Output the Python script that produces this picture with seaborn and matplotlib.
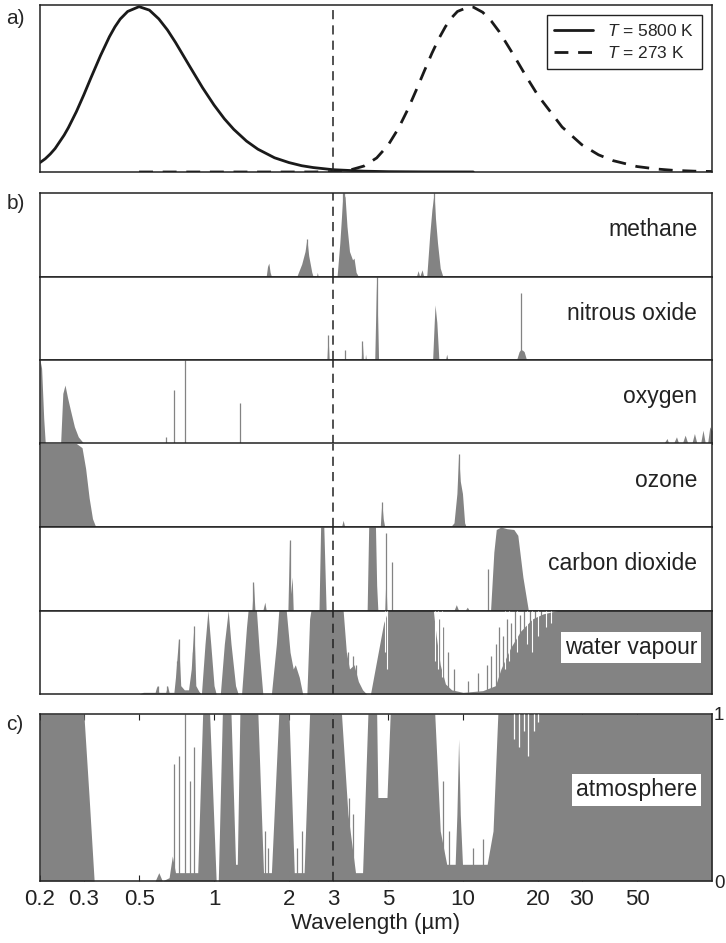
import numpy as np
import pandas as pd
import matplotlib
matplotlib.use("Agg")
import matplotlib.pyplot as plt
from matplotlib.ticker import FixedLocator, NullLocator
import seaborn as sns

sns.set_theme(style="white")
plt.rcParams['font.family'] = ['Liberation Sans', 'DejaVu Sans']
plt.rcParams['mathtext.fontset'] = 'custom'
plt.rcParams['mathtext.it'] = 'Liberation Sans:italic'
plt.rcParams['mathtext.rm'] = 'Liberation Sans'

# ---------------- data ----------------
# panel a: normalised black-body spectra
sun_wl = [0.2, 0.21, 0.22, 0.23, 0.25, 0.26, 0.28, 0.3, 0.32, 0.35, 0.38, 0.4, 0.42, 0.45, 0.5,
          0.55, 0.6, 0.65, 0.7, 0.8, 0.9, 1.0, 1.1, 1.2, 1.35, 1.5, 1.75, 2.0, 2.25, 2.5, 3.0,
          4.0, 5.0, 7.0, 11.0]
sun_val = [0.057, 0.080, 0.109, 0.142, 0.223, 0.268, 0.365, 0.467, 0.568, 0.704, 0.818, 0.878,
           0.925, 0.971, 1.0, 0.979, 0.926, 0.859, 0.784, 0.637, 0.509, 0.405, 0.322, 0.258,
           0.187, 0.138, 0.086, 0.057, 0.038, 0.027, 0.014, 0.005, 0.002, 0.0006, 0.0001]
earth_wl = [0.5, 1.0, 2.0, 2.5, 3.0, 3.5, 4.0, 4.5, 5.0, 5.5, 6.0, 6.5, 7.0, 7.5, 8.0, 8.5, 9.0,
            9.5, 10.6, 11.0, 12.0, 13.0, 14.0, 16.0, 18.0, 20.0, 25.0, 30.0, 35.0, 40.0, 50.0,
            60.0, 70.0, 85.0, 100.0]
earth_val = [0.0, 0.0, 0.0, 0.0001, 0.002, 0.011, 0.036, 0.085, 0.162, 0.263, 0.378, 0.498,
             0.613, 0.718, 0.807, 0.879, 0.933, 0.971, 1.0, 0.997, 0.966, 0.912, 0.847, 0.705,
             0.574, 0.463, 0.272, 0.165, 0.104, 0.069, 0.033, 0.018, 0.010, 0.005, 0.003]
legend_labels = ["$T$ = 5800 K", "$T$ = 273 K"]

# panel b: absorption envelopes (wavelength in um, absorption 0..1) and narrow lines
methane_wl = [0.2, 1.62, 1.64, 1.66, 1.68, 1.70, 2.15, 2.25, 2.32, 2.36, 2.40, 2.47, 2.5, 2.58,
              2.6, 2.62, 3.12, 3.2, 3.28, 3.31, 3.36, 3.42, 3.5, 3.6, 3.65, 3.72, 3.8, 6.5, 6.6,
              6.7, 6.85, 6.95, 7.15, 7.35, 7.5, 7.65, 7.75, 7.9, 8.1, 8.3, 100]
methane_ab = [0, 0, 0.12, 0.16, 0.05, 0, 0, 0.15, 0.3, 0.45, 0.25, 0.05, 0, 0,
              0.05, 0, 0, 0.4, 0.9, 1.0, 0.95, 0.6, 0.3, 0.2, 0.22, 0.05, 0, 0, 0.07,
              0, 0.08, 0, 0, 0.5, 0.8, 1.0, 0.7, 0.4, 0.1, 0, 0]
methane_line_wl = [2.36, 3.30, 3.34, 7.62]
methane_line_ab = [0.45, 1.0, 1.0, 1.0]

n2o_wl = [0.2, 2.84, 2.87, 2.9, 3.9, 3.94, 3.98, 4.04, 4.06, 4.09, 4.42, 4.48, 4.5, 4.53,
          4.58, 7.55, 7.65, 7.72, 7.85, 8.0, 8.5, 8.6, 8.7, 16.4, 16.8, 17.0, 17.3, 17.6, 18.0, 100]
n2o_ab = [0, 0, 0.3, 0, 0, 0.23, 0, 0, 0.07, 0, 0, 0.8, 1.0, 0.6,
          0, 0, 0.4, 0.66, 0.45, 0, 0, 0.07, 0, 0, 0.1, 0.12, 0.12, 0.1, 0, 0]
n2o_line_wl = [2.87, 3.37, 3.94, 4.5, 17.15]
n2o_line_ab = [0.3, 0.12, 0.23, 1.0, 0.8]

o2_wl = [0.2, 0.203, 0.207, 0.21, 0.242, 0.247, 0.252, 0.258, 0.265, 0.275, 0.285, 0.3,
         64, 66, 67, 70, 72, 73.5, 76, 78, 80, 83, 85, 87, 90, 92, 94, 96, 98, 100]
o2_ab = [1.0, 0.9, 0.3, 0, 0, 0.6, 0.7, 0.55, 0.4, 0.2, 0.08, 0,
         0, 0.06, 0, 0, 0.08, 0, 0, 0.1, 0, 0, 0.12, 0, 0, 0.16, 0, 0, 0.2, 0.15]
o2_line_wl = [0.64, 0.69, 0.762, 1.27]
o2_line_ab = [0.08, 0.64, 1.0, 0.48]

o3_wl = [0.2, 0.28, 0.295, 0.305, 0.315, 0.325, 0.335, 3.25, 3.3, 3.35, 4.65, 4.72, 4.78,
         4.85, 8.9, 9.2, 9.45, 9.6, 9.75, 9.95, 10.15, 10.3, 100]
o3_ab = [1.0, 1.0, 0.95, 0.7, 0.35, 0.1, 0, 0, 0.08, 0, 0, 0.3, 0.1,
         0, 0, 0.05, 0.4, 0.87, 0.55, 0.4, 0.05, 0, 0]
o3_line_wl = [4.74, 9.6]
o3_line_ab = [0.3, 0.87]

co2_wl = [0.2, 1.42, 1.44, 1.46, 1.57, 1.6, 1.62, 1.98, 2.01, 2.03, 2.06, 2.08, 2.64, 2.68,
          2.76, 2.82, 4.12, 4.18, 4.45, 4.5, 4.55, 4.85, 4.9, 4.95, 9.2, 9.4, 9.6, 10.2, 10.4,
          10.6, 12.9, 13.3, 13.6, 14.2, 15.0, 16.0, 16.6, 17.4, 18.3, 100]
co2_ab = [0, 0, 0.34, 0, 0, 0.1, 0, 0, 0.85, 0.2, 0.4, 0, 0, 1.0,
          1.0, 0, 0, 1.0, 1.0, 0.3, 0, 0, 0.4, 0, 0, 0.07, 0, 0, 0.04,
          0, 0, 0.7, 0.97, 1.0, 0.98, 0.97, 0.9, 0.4, 0, 0]
co2_line_wl = [1.44, 2.01, 4.9, 5.2, 12.6]
co2_line_ab = [0.34, 0.85, 0.93, 0.58, 0.5]

h2o_wl = [0.2, 0.5, 0.52, 0.58, 0.59, 0.6, 0.64, 0.65, 0.66, 0.69, 0.7, 0.72, 0.735, 0.76,
          0.79, 0.81, 0.83, 0.845, 0.87, 0.89, 0.92, 0.945, 0.97, 1.0, 1.02, 1.06, 1.1, 1.14,
          1.17, 1.22, 1.25, 1.29, 1.35, 1.37, 1.48, 1.52, 1.57, 1.7, 1.78, 1.82, 1.95, 2.02,
          2.08, 2.12, 2.2, 2.27, 2.36, 2.42, 2.45, 3.3, 3.4, 3.5, 3.65, 3.8, 3.95, 4.1, 4.25,
          4.5, 4.8, 5.0, 7.6, 7.8, 8.1, 8.5, 9.0, 10.0, 12.0, 13.5, 14.2, 15.5, 17.0, 19.0,
          21.0, 24.0, 100]
h2o_ab = [0, 0, 0.02, 0.02, 0.1, 0.02, 0.02, 0.1, 0.02, 0.02, 0.2, 0.66, 0.1, 0.05,
          0.05, 0.3, 0.82, 0.1, 0.03, 0, 0.6, 1.0, 0.6, 0.1, 0, 0, 0.6, 1.0,
          0.6, 0.1, 0, 0, 0.8, 1.0, 1.0, 0.5, 0, 0, 0.6, 1.0, 1.0, 0.5,
          0.3, 0.35, 0.2, 0, 0, 0.9, 1.0, 1.0, 0.5, 0.3, 0.35, 0.15, 0.05, 0, 0,
          0.4, 0.85, 1.0, 1.0, 0.7, 0.35, 0.12, 0.05, 0.02, 0.04, 0.1, 0.3, 0.55, 0.75, 0.9,
          0.96, 1.0, 1.0]
h2o_line_wl = [0.595, 0.65, 0.71, 0.72, 0.82, 0.83, 3.45, 3.6, 3.7, 8.0, 8.3, 8.7, 9.2, 10.5,
               11.5, 12.5, 13.0, 13.6, 14.0, 14.5, 15.0, 15.6, 16.2, 16.9, 17.6, 18.5, 19.4, 20.5]
h2o_line_ab = [0.1, 0.1, 0.4, 0.66, 0.5, 0.82, 0.5, 0.45, 0.35, 0.9, 0.8, 0.5, 0.3, 0.15,
               0.25, 0.35, 0.45, 0.6, 0.8, 0.7, 0.9, 0.85, 1.0, 0.95, 1.0, 1.0, 1.0, 1.0]
h2o_gap_wl = [4.85, 4.95, 7.7, 7.9, 8.2, 14.8, 15.3, 16.5, 18.0, 19.0, 20.0, 21.5, 22.5]
h2o_gap_ab = [0.5, 0.3, 0.4, 0.3, 0.2, 0.3, 0.4, 0.5, 0.6, 0.5, 0.7, 0.8, 0.85]

# panel c: whole atmosphere
atm_wl = [0.2, 0.30, 0.315, 0.33, 0.58, 0.6, 0.62, 0.66, 0.68, 0.7, 0.86, 0.9, 0.96, 1.02,
          1.04, 1.08, 1.17, 1.22, 1.24, 1.27, 1.5, 1.58, 1.7, 1.82, 2.0, 2.1, 2.3, 2.42, 3.25,
          3.45, 3.7, 3.95, 4.15, 4.5, 4.55, 4.95, 5.1, 7.7, 8.1, 8.6, 9.3, 9.45, 9.6, 9.75,
          9.95, 12.5, 13.2, 13.8, 100]
atm_ab = [1.0, 1.0, 0.5, 0, 0, 0.05, 0, 0.02, 0.15, 0.05, 0.05, 1.0, 1.0, 0,
          0, 1.0, 1.0, 0.1, 0.1, 1.0, 1.0, 0.05, 0.05, 1.0, 1.0, 0.05, 0.05, 1.0, 1.0,
          0.4, 0.05, 0.05, 1.0, 1.0, 0.5, 0.5, 1.0, 1.0, 0.3, 0.1, 0.1, 0.4, 0.85, 0.4,
          0.1, 0.1, 0.3, 1.0, 1.0]
atm_line_wl = [0.69, 0.72, 0.762, 0.80, 0.83, 1.6, 1.65, 2.15, 2.25, 3.5, 3.6, 8.3, 8.8, 11.0, 12.0]
atm_line_ab = [0.7, 0.75, 1.0, 0.6, 0.8, 0.3, 0.2, 0.2, 0.3, 0.5, 0.4, 0.6, 0.3, 0.2, 0.25]
atm_gap_wl = [16.0, 16.8, 17.5, 18.2, 19.3, 20.0]
atm_gap_ab = [0.85, 0.8, 0.9, 0.75, 0.9, 0.95]

gas_names = ["methane", "nitrous oxide", "oxygen", "ozone", "carbon dioxide", "water vapour"]
gas_wl = [methane_wl, n2o_wl, o2_wl, o3_wl, co2_wl, h2o_wl]
gas_ab = [methane_ab, n2o_ab, o2_ab, o3_ab, co2_ab, h2o_ab]
gas_line_wl = [methane_line_wl, n2o_line_wl, o2_line_wl, o3_line_wl, co2_line_wl, h2o_line_wl]
gas_line_ab = [methane_line_ab, n2o_line_ab, o2_line_ab, o3_line_ab, co2_line_ab, h2o_line_ab]

tick_vals = [0.2, 0.3, 0.5, 1, 2, 3, 5, 10, 20, 30, 50]
tick_labels = ["0.2", "0.3", "0.5", "1", "2", "3", "5", "10", "20", "30", "50"]
marker_wl = 3.0

# ---------------- style ----------------
GRAY = '#838383'
LABEL_FS = 16.5
TICK_FS = 16
PANEL_FS = 15
INK = '#222222'

fig = plt.figure(figsize=(7.26, 9.43), dpi=100)
L, W = 40 / 726, 672 / 726


def frac(top, bottom):
    return [L, 1 - bottom / 943, W, (bottom - top) / 943]


def base(ax):
    ax.set_xscale('log')
    ax.set_xlim(0.2, 100)
    ax.set_ylim(0, 1)
    ax.xaxis.set_major_locator(NullLocator())
    ax.xaxis.set_minor_locator(NullLocator())
    ax.set_yticks([])
    for s in ax.spines.values():
        s.set_color(INK)
        s.set_linewidth(1.1)
    ax.set_facecolor('white')
    ax.axvline(marker_wl, color=INK, lw=1.1, dashes=(6, 4), zorder=5)


# panel a
ax_a = fig.add_axes(frac(5, 172))
base(ax_a)
ax_a.set_ylim(0, 1.01)
sns.lineplot(x=sun_wl, y=sun_val, ax=ax_a, color='#1a1a1a', lw=2.0, label=legend_labels[0])
sns.lineplot(x=earth_wl, y=earth_val, ax=ax_a, color='#1a1a1a', lw=2.0, label=legend_labels[1])
ax_a.lines[-1].set_dashes((5, 3.5))
leg = ax_a.legend(loc='upper right', fontsize=12.5, frameon=True, fancybox=False,
                  edgecolor=INK, framealpha=1, borderpad=0.45, handlelength=2.2,
                  borderaxespad=0.6, labelspacing=0.35)
leg.get_frame().set_linewidth(1.0)
ax_a.text(-0.05, 0.92, "a)", transform=ax_a.transAxes, fontsize=PANEL_FS, ha='left', va='center')

# panel b
b_top = 193
h = 83.5
for i, name in enumerate(gas_names):
    ax = fig.add_axes(frac(b_top + i * h, b_top + (i + 1) * h))
    base(ax)
    ax.fill_between(gas_wl[i], 0, gas_ab[i], color=GRAY, lw=0, zorder=2)
    ax.vlines(gas_line_wl[i], 0, gas_line_ab[i], color=GRAY, lw=0.9, zorder=2)
    kw = {}
    if name == "water vapour":
        ax.vlines(h2o_gap_wl, h2o_gap_ab, 1, color='white', lw=0.8, zorder=3)
        kw = dict(bbox=dict(facecolor='white', edgecolor='none', pad=3))
    ax.text(0.978, 0.56, name, transform=ax.transAxes, fontsize=LABEL_FS, ha='right',
            va='center', color=INK, zorder=6, **kw)
    if i == 0:
        ax.text(-0.05, 0.88, "b)", transform=ax.transAxes, fontsize=PANEL_FS,
                ha='left', va='center')

# panel c
ax_c = fig.add_axes(frac(714, 881))
base(ax_c)
ax_c.fill_between(atm_wl, 0, atm_ab, color=GRAY, lw=0, zorder=2)
ax_c.vlines(atm_line_wl, 0, atm_line_ab, color=GRAY, lw=0.9, zorder=2)
ax_c.vlines(atm_gap_wl, atm_gap_ab, 1, color='white', lw=0.9, zorder=3)
ax_c.text(0.978, 0.545, "atmosphere", transform=ax_c.transAxes, fontsize=LABEL_FS, ha='right',
          va='center', color=INK, zorder=6,
          bbox=dict(facecolor='white', edgecolor='none', pad=3))
ax_c.text(-0.05, 0.94, "c)", transform=ax_c.transAxes, fontsize=PANEL_FS, ha='left', va='center')
ax_c.xaxis.set_major_locator(FixedLocator(tick_vals))
ax_c.set_xticklabels(tick_labels)
ax_c.tick_params(axis='x', which='major', direction='in', top=True, bottom=True, length=4,
                 width=0.8, color=INK, labelsize=TICK_FS, pad=6, labelcolor=INK)
ax_c.yaxis.tick_right()
ax_c.set_yticks([0, 1])
ax_c.set_yticklabels(["0", "1"])
ax_c.tick_params(axis='y', length=0, pad=1.5, labelsize=13.5, labelcolor=INK)
ax_c.set_xlabel("Wavelength (µm)", fontsize=TICK_FS, color=INK, labelpad=2)

fig.savefig("out.png", dpi=100)
